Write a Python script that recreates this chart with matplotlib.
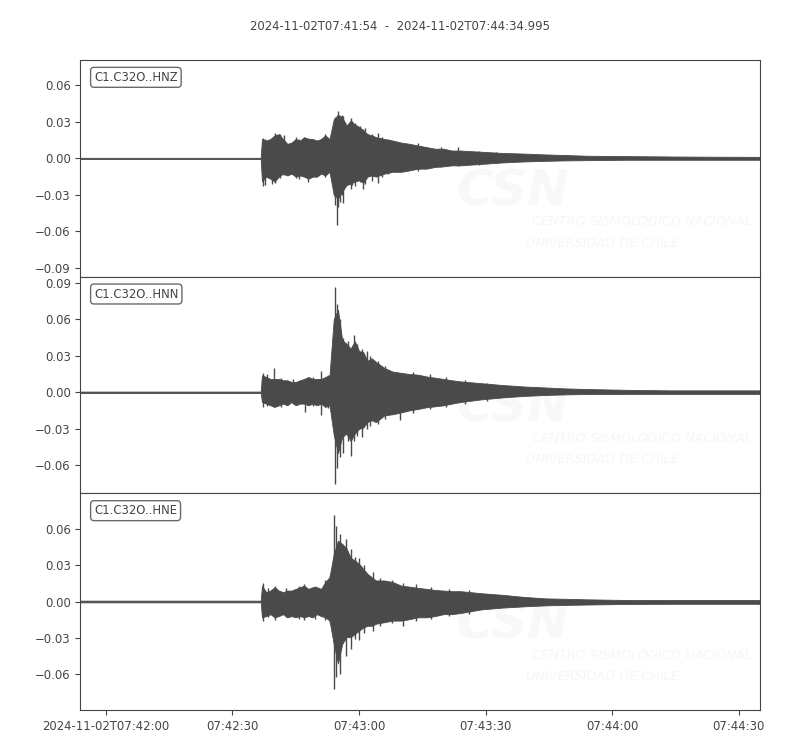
import numpy as np
import matplotlib
matplotlib.use('Agg')
from matplotlib import pyplot as plt
from matplotlib.ticker import MultipleLocator, FixedLocator, FixedFormatter

title = '2024-11-02T07:41:54  -  2024-11-02T07:44:34.995'
channels = ['C1.C32O..HNZ', 'C1.C32O..HNN', 'C1.C32O..HNE']

t_env = [0, 42.7, 43, 44, 45, 46, 47, 48, 49, 50, 51, 52, 53, 54, 55, 56, 57, 58, 59,
         60, 61, 62, 63, 64, 65, 66, 67, 68, 69, 70, 72, 74, 76, 78, 80, 82, 84, 86, 88,
         90, 95, 100, 105, 110, 115, 120, 130, 140, 150, 160.995]

hnz_hi = [0.0005, 0.0005, 0.016, 0.0147, 0.016, 0.019, 0.020, 0.016, 0.012, 0.013, 0.016,
          0.0147, 0.0175, 0.016, 0.016, 0.0147, 0.016, 0.019, 0.016, 0.032, 0.036, 0.034,
          0.027, 0.031, 0.028, 0.026, 0.023, 0.020, 0.019, 0.0175, 0.016, 0.0147, 0.013,
          0.012, 0.0106, 0.0093, 0.008, 0.008, 0.0065, 0.0065, 0.0055, 0.0045, 0.004,
          0.0033, 0.0028, 0.0022, 0.0019, 0.0016, 0.0014, 0.0013]
hnz_lo = [-0.0005, -0.0005, -0.019, -0.015, -0.0167, -0.019, -0.015, -0.0125, -0.014,
          -0.0125, -0.015, -0.014, -0.015, -0.0167, -0.015, -0.015, -0.0125, -0.014, -0.011,
          -0.030, -0.033, -0.0275, -0.022, -0.0207, -0.019, -0.018, -0.020, -0.015, -0.014,
          -0.015, -0.0125, -0.011, -0.011, -0.0098, -0.0084, -0.0084, -0.007, -0.0065,
          -0.0057, -0.0057, -0.0045, -0.0033, -0.0025, -0.002, -0.0016, -0.0014, -0.0011,
          -0.0011, -0.0011, -0.0011]

hnn_hi = [0.0006, 0.0006, 0.014, 0.0126, 0.011, 0.011, 0.011, 0.0099, 0.0099, 0.0085,
          0.0085, 0.0099, 0.011, 0.0126, 0.011, 0.011, 0.011, 0.0126, 0.014, 0.060, 0.068,
          0.043, 0.040, 0.036, 0.042, 0.034, 0.033, 0.026, 0.028, 0.025, 0.020, 0.017,
          0.016, 0.015, 0.0145, 0.013, 0.012, 0.011, 0.0099, 0.009, 0.0075, 0.006, 0.0048,
          0.004, 0.0032, 0.0027, 0.002, 0.0016, 0.0016, 0.0016]
hnn_lo = [-0.0006, -0.0006, -0.008, -0.0093, -0.0107, -0.012, -0.0107, -0.0093, -0.0107,
          -0.008, -0.0107, -0.0093, -0.0093, -0.0107, -0.0093, -0.0107, -0.0093, -0.012,
          -0.0107, -0.035, -0.050, -0.0367, -0.034, -0.040, -0.034, -0.030, -0.029,
          -0.0244, -0.023, -0.0245, -0.019, -0.018, -0.0165, -0.0148, -0.0137, -0.0123,
          -0.0115, -0.0107, -0.0093, -0.008, -0.0058, -0.0042, -0.003, -0.0022, -0.0017,
          -0.0014, -0.0013, -0.0013, -0.0013, -0.0013]

hne_hi = [0.0007, 0.0007, 0.013, 0.0077, 0.009, 0.0118, 0.009, 0.0077, 0.009, 0.009,
          0.0104, 0.0118, 0.013, 0.0104, 0.0118, 0.0118, 0.0104, 0.016, 0.020, 0.039,
          0.050, 0.0474, 0.044, 0.036, 0.0337, 0.031, 0.0269, 0.0227, 0.020, 0.0173,
          0.0173, 0.016, 0.013, 0.0122, 0.0112, 0.0104, 0.0095, 0.009, 0.0085, 0.0085,
          0.0068, 0.0055, 0.0038, 0.0026, 0.0022, 0.0018, 0.0012, 0.0012, 0.0012, 0.0012]
hne_lo = [-0.0007, -0.0007, -0.013, -0.012, -0.0104, -0.013, -0.012, -0.0104, -0.013,
          -0.012, -0.013, -0.012, -0.013, -0.012, -0.013, -0.0104, -0.012, -0.013,
          -0.0157, -0.035, -0.051, -0.035, -0.0293, -0.0293, -0.0268, -0.024, -0.0214,
          -0.020, -0.020, -0.0183, -0.017, -0.0157, -0.0157, -0.0145, -0.013, -0.013,
          -0.012, -0.0104, -0.0104, -0.0095, -0.0065, -0.005, -0.004, -0.0032, -0.0028,
          -0.0025, -0.002, -0.0019, -0.0019, -0.0019]

# single tall swings sticking out of the envelope
hnz_spk_t = [43.3, 43.6, 45.3, 46.0, 47.2, 48.2, 51.0, 51.7, 54.0, 58.0, 60.2, 60.7, 61.0,
             61.5, 62.0, 62.3, 62.7, 64.0, 64.3, 65.0, 66.3, 67.0, 67.4, 69.0, 70.4, 71.4,
             72.9, 80.0, 85.5, 89.4, 94.5, 98.5]
hnz_spk_lo = [-0.023, -0.022, -0.021, -0.020, -0.016, -0.014, -0.016, -0.017, -0.019,
              -0.015, -0.038, -0.055, -0.040, -0.036, -0.030, -0.037, -0.023, -0.025,
              -0.022, -0.023, -0.019, -0.025, -0.021, -0.0185, -0.020, -0.015, -0.013,
              -0.010, -0.007, -0.006, -0.005, -0.004]
hnz_spk_hi = [0.017, 0.016, 0.017, 0.021, 0.020, 0.019, 0.0175, 0.016, 0.017, 0.020,
              0.034, 0.030, 0.0387, 0.033, 0.036, 0.035, 0.030, 0.033, 0.031, 0.029,
              0.027, 0.024, 0.025, 0.020, 0.021, 0.018, 0.016, 0.013, 0.0095, 0.0093,
              0.0065, 0.005]

hnn_spk_t = [43.2, 44.3, 45.9, 47.5, 50.3, 53.1, 55.2, 57.1, 58.6, 60.2, 60.8, 61.6,
             62.3, 63.5, 64.2, 64.8, 65.5, 66.6, 67.8, 68.6, 70.4, 72.1, 75.8, 78.8,
             82.8, 86.7, 91.0, 96.2]
hnn_spk_lo = [-0.012, -0.011, -0.012, -0.012, -0.010, -0.016, -0.011, -0.019, -0.013,
              -0.075, -0.062, -0.053, -0.050, -0.040, -0.052, -0.040, -0.036, -0.037,
              -0.030, -0.028, -0.026, -0.022, -0.023, -0.017, -0.014, -0.012, -0.010,
              -0.007]
hnn_spk_hi = [0.016, 0.015, 0.020, 0.012, 0.011, 0.011, 0.013, 0.0175, 0.014, 0.087,
              0.073, 0.060, 0.045, 0.042, 0.036, 0.047, 0.040, 0.036, 0.034, 0.030,
              0.026, 0.022, 0.016, 0.017, 0.015, 0.013, 0.0105, 0.008]

hne_spk_t = [43.2, 44.5, 46.2, 48.6, 51.8, 53.0, 55.5, 58.0, 59.2, 60.1, 60.6, 61.6,
             62.8, 64.2, 65.0, 65.9, 67.1, 69.3, 71.0, 73.8, 76.5, 79.5, 83.0, 87.4,
             92.0]
hne_spk_lo = [-0.016, -0.013, -0.015, -0.013, -0.014, -0.015, -0.014, -0.015, -0.018,
              -0.0718, -0.062, -0.0595, -0.045, -0.039, -0.031, -0.032, -0.026, -0.024,
              -0.020, -0.018, -0.020, -0.016, -0.014, -0.012, -0.010]
hne_spk_hi = [0.015, 0.011, 0.013, 0.011, 0.013, 0.014, 0.013, 0.018, 0.022, 0.0715,
              0.062, 0.0556, 0.0515, 0.043, 0.037, 0.036, 0.030, 0.024, 0.019, 0.018,
              0.015, 0.014, 0.012, 0.010, 0.0095]

tick_t = [6, 36, 66, 96, 126, 156]
tick_labels = ['2024-11-02T07:42:00', '07:42:30', '07:43:00', '07:43:30', '07:44:00', '07:44:30']

traces = [(hnz_hi, hnz_lo, hnz_spk_t, hnz_spk_lo, hnz_spk_hi),
          (hnn_hi, hnn_lo, hnn_spk_t, hnn_spk_lo, hnn_spk_hi),
          (hne_hi, hne_lo, hne_spk_t, hne_spk_lo, hne_spk_hi)]

wave = '#4a4a4a'
grey = '#444444'

# same y range for every channel, centred on each one (like obspy equal_scale)
ranges = []
for hi, lo, st, slo, shi in traces:
    ranges.append(max(max(hi), max(shi)) - min(min(lo), min(slo)))
half = max(ranges) / 2 * 1.1

fig, axes = plt.subplots(3, 1, figsize=(8, 7.5), dpi=100, sharex=True)
fig.subplots_adjust(left=0.1006, right=0.95, top=0.92, bottom=0.0533, hspace=0)

for ax, chan, (hi, lo, st, slo, shi) in zip(axes, channels, traces):
    ax.fill_between(t_env, lo, hi, color=wave, lw=0.6, zorder=3)
    ax.vlines(st, slo, shi, color=wave, lw=1.0, zorder=3)
    top = max(max(hi), max(shi))
    bot = min(min(lo), min(slo))
    mid = (top + bot) / 2
    ax.set_ylim(mid - half, mid + half)
    ax.set_xlim(0, 160.995)
    ax.yaxis.set_major_locator(MultipleLocator(0.03))
    ax.tick_params(colors=grey, labelcolor=grey, labelsize=8.33)
    for sp in ax.spines.values():
        sp.set_color(grey)
    ax.text(0.02, 0.95, chan, transform=ax.transAxes, fontsize=8.33, color=grey,
            ha='left', va='top', zorder=5,
            bbox=dict(boxstyle='round', fc='w', ec=grey, alpha=0.8))
    # faint CSN watermark
    ax.text(0.553, 0.33, 'CSN', transform=ax.transAxes, fontsize=36, fontweight='bold',
            fontstyle='italic', color='#f8f8f8', zorder=1, clip_on=True)
    ax.text(0.664, 0.253, 'CENTRO SISMOLÓGICO NACIONAL', transform=ax.transAxes,
            fontsize=9.3, fontstyle='italic', color='#f6f6f6', va='center', zorder=1,
            clip_on=True)
    ax.text(0.655, 0.155, 'UNIVERSIDAD DE CHILE', transform=ax.transAxes,
            fontsize=9.3, fontstyle='italic', color='#f6f6f6', va='center', zorder=1,
            clip_on=True)

for ax in axes[:-1]:
    ax.tick_params(axis='x', bottom=False, labelbottom=False)

axes[-1].xaxis.set_major_locator(FixedLocator(tick_t))
axes[-1].xaxis.set_major_formatter(FixedFormatter(tick_labels))

fig.suptitle(title, y=0.973, fontsize=8.33, color=grey)
fig.savefig('out.png', dpi=100)
